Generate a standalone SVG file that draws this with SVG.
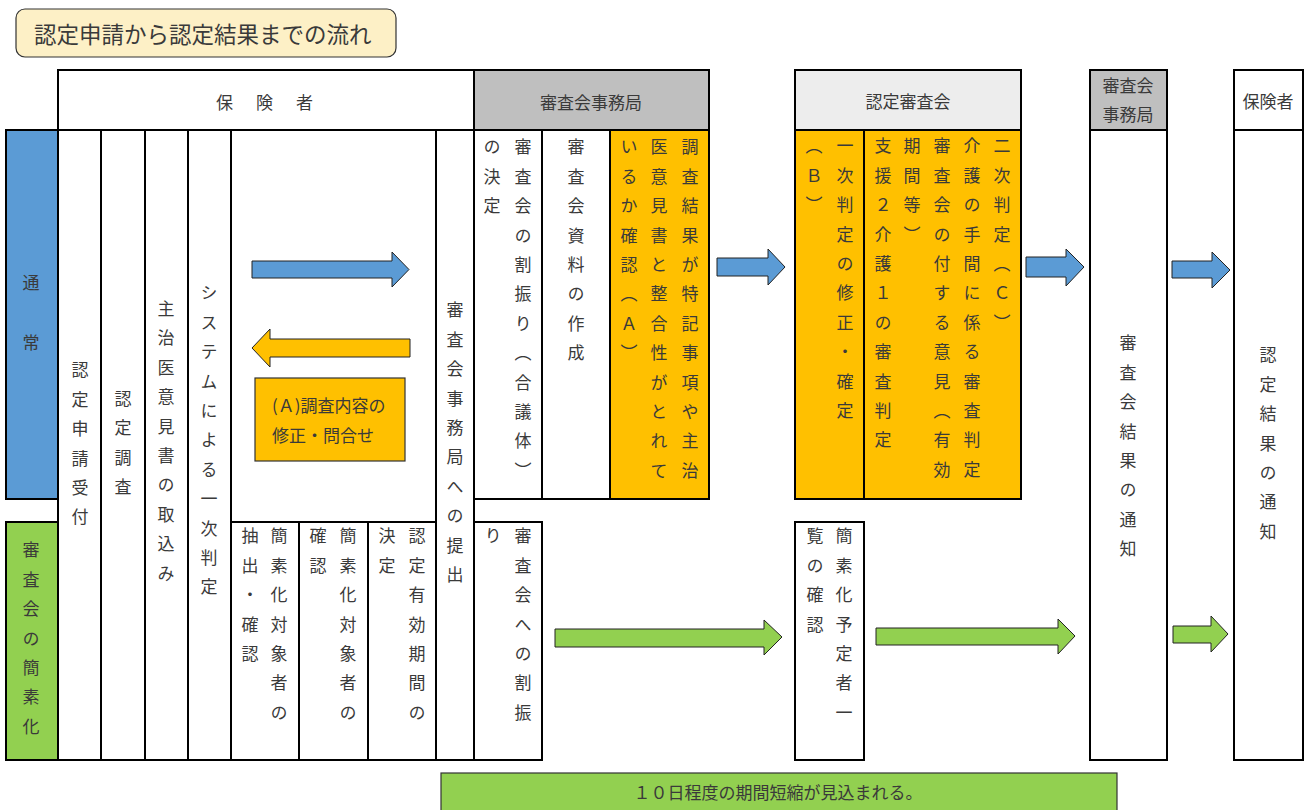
<svg xmlns="http://www.w3.org/2000/svg" width="1308" height="810" viewBox="0 0 1308 810">
<style>
text { font-family: "Noto Sans CJK JP", "Noto Sans", sans-serif; fill: #3a3a3a; font-size: 17px; }
.v { writing-mode: vertical-rl; letter-spacing: 12.4px; }
.h { dominant-baseline: central; }
.c { text-anchor: middle; }
.box { stroke: #000; stroke-width: 2; fill: #fff; }
.gray { fill: #bfbfbf; }
.lgray { fill: #ededed; }
.org { fill: #ffc000; }
.blue { fill: #5b9bd5; }
.green { fill: #92d050; }
.arr { stroke: #222; stroke-width: 1; }
</style>

<g id="title">
  <rect x="16" y="9" width="380" height="48" rx="9" fill="#fdf0c6" stroke="#333" stroke-width="1.2"/>
  <text x="34" y="33" class="h" style="font-size:22.5px">認定申請から認定結果までの流れ</text>
</g>

<g id="header-hokensha">
  <rect class="box" x="58" y="70" width="416" height="60"/>
  <text x="266" y="101" class="h c" style="letter-spacing:3px">保　険　者</text>
</g>
<g id="header-jimukyoku">
  <rect class="box gray" x="474" y="70" width="235" height="60"/>
  <text x="591" y="101" class="h c">審査会事務局</text>
</g>
<g id="header-shinsakai">
  <rect class="box lgray" x="795" y="70" width="226" height="60"/>
  <text x="908" y="100" class="h c">認定審査会</text>
</g>
<g id="header-jimukyoku2">
  <rect class="box gray" x="1090" y="70" width="77" height="60"/>
  <text x="1128" y="84" class="h c">審査会</text>
  <text x="1128" y="113" class="h c">事務局</text>
</g>
<g id="header-hokensha2">
  <rect class="box" x="1234" y="70" width="69" height="60"/>
  <text x="1268" y="100" class="h c">保険者</text>
</g>

<g id="lane-normal">
  <rect class="box blue" x="6" y="130" width="52" height="369"/>
  <text x="31" y="274.5" class="v" style="letter-spacing:43px">通常</text>
</g>
<g id="lane-simple">
  <rect class="box green" x="6" y="522" width="52" height="238"/>
  <text x="31" y="541.5" class="v">審査会の簡素化</text>
</g>

<g id="col-uketsuke">
  <rect class="box" x="58" y="130" width="43" height="630"/>
  <text x="80" y="361.5" class="v">認定申請受付</text>
</g>
<g id="col-chosa">
  <rect class="box" x="101" y="130" width="44" height="630"/>
  <text x="123" y="390" class="v">認定調査</text>
</g>
<g id="col-ikensho">
  <rect class="box" x="145" y="130" width="43" height="630"/>
  <text x="166" y="300" class="v">主治医意見書の取込み</text>
</g>
<g id="col-ichiji">
  <rect class="box" x="188" y="130" width="43" height="630"/>
  <text x="209" y="284.5" class="v">システムによる一次判定</text>
</g>
<g id="col-toiawase-area">
  <rect class="box" x="231" y="130" width="205" height="392"/>
</g>
<g id="box-chushutsu">
  <rect class="box" x="231" y="522" width="68" height="238"/>
  <text x="279" y="527.5" class="v">簡素化対象者の</text>
  <text x="250" y="527.5" class="v">抽出・確認</text>
</g>
<g id="box-taisho-kakunin">
  <rect class="box" x="299" y="522" width="69" height="238"/>
  <text x="348" y="527.5" class="v">簡素化対象者の</text>
  <text x="318" y="527.5" class="v">確認</text>
</g>
<g id="box-yukokikan">
  <rect class="box" x="368" y="522" width="68" height="238"/>
  <text x="417" y="527.5" class="v">認定有効期間の</text>
  <text x="387" y="527.5" class="v">決定</text>
</g>
<g id="col-teishutsu">
  <rect class="box" x="436" y="130" width="38" height="630"/>
  <text x="455" y="301.5" class="v">審査会事務局への提出</text>
</g>

<g id="box-warifuri">
  <rect class="box" x="474" y="130" width="68" height="369"/>
  <text x="523" y="138.5" class="v">審査会の割振り（合議体）</text>
  <text x="492" y="138.5" class="v">の決定</text>
</g>
<g id="box-shiryo">
  <rect class="box" x="542" y="130" width="68" height="369"/>
  <text x="576" y="138.5" class="v">審査会資料の作成</text>
</g>
<g id="box-kakunin-A">
  <rect class="box org" x="610" y="130" width="99" height="369"/>
  <text x="690" y="138.5" class="v">調査結果が特記事項や主治</text>
  <text x="659" y="138.5" class="v">医意見書と整合性がとれて</text>
  <text x="629" y="138.5" class="v">いるか確認（Ａ）</text>
</g>
<g id="box-warifuri2">
  <rect class="box" x="474" y="522" width="68" height="238"/>
  <text x="523" y="527.5" class="v">審査会への割振</text>
  <text x="493" y="527.5" class="v">り</text>
</g>

<g id="box-B">
  <rect class="box org" x="795" y="130" width="69" height="369"/>
  <text x="845" y="137.5" class="v">一次判定の修正・確定</text>
  <text x="814" y="137.5" class="v">（Ｂ）</text>
</g>
<g id="box-C">
  <rect class="box org" x="864" y="130" width="157" height="369"/>
  <text x="1002" y="137.5" class="v">二次判定（Ｃ）</text>
  <text x="972" y="137.5" class="v">介護の手間に係る審査判定</text>
  <text x="942" y="137.5" class="v">審査会の付する意見（有効</text>
  <text x="912" y="137.5" class="v">期間等）</text>
  <text x="883" y="137.5" class="v">支援２介護１の審査判定</text>
</g>
<g id="box-ichiran">
  <rect class="box" x="795" y="522" width="69" height="238"/>
  <text x="844" y="527.5" class="v">簡素化予定者一</text>
  <text x="815" y="527.5" class="v">覧の確認</text>
</g>

<g id="box-kekka">
  <rect class="box" x="1090" y="130" width="77" height="630"/>
  <text x="1128" y="334.5" class="v">審査会結果の通知</text>
</g>
<g id="box-tsuchi">
  <rect class="box" x="1234" y="130" width="69" height="630"/>
  <text x="1268" y="346.5" class="v">認定結果の通知</text>
</g>

<g id="note-A">
  <rect x="255" y="378" width="150" height="83" fill="#ffc000" stroke="#333" stroke-width="1.2"/>
  <text x="272" y="404" class="h">(Ａ)調査内容の</text>
  <text x="272" y="434" class="h">修正・問合せ</text>
</g>

<g id="banner">
  <rect x="441" y="773" width="676" height="40" fill="#92d050" stroke="#333" stroke-width="1.2"/>
  <text x="778" y="791" class="h c">１０日程度の期間短縮が見込まれる。</text>
</g>

<g id="connectors">
  <polygon class="arr blue" points="252,261 392,261 392,252 409,269.5 392,287 392,278 252,278"/>
  <polygon class="arr org" points="410,339 270,339 270,329 252,348 270,367 270,357 410,357"/>
  <polygon class="arr blue" points="717,258 768,258 768,249 785,267 768,285 768,276 717,276"/>
  <polygon class="arr blue" points="1026,257 1066,257 1066,249 1084,267 1066,286 1066,277 1026,277"/>
  <polygon class="arr blue" points="1172,261 1212,261 1212,252 1230,270 1212,288 1212,278 1172,278"/>
  <polygon class="arr green" points="555,629 764,629 764,620 782,637 764,655 764,647 555,647"/>
  <polygon class="arr green" points="876,628 1058,628 1058,619 1075,636 1058,654 1058,645 876,645"/>
  <polygon class="arr green" points="1173,626 1211,626 1211,616 1228,634 1211,652 1211,643 1173,643"/>
</g>
</svg>
